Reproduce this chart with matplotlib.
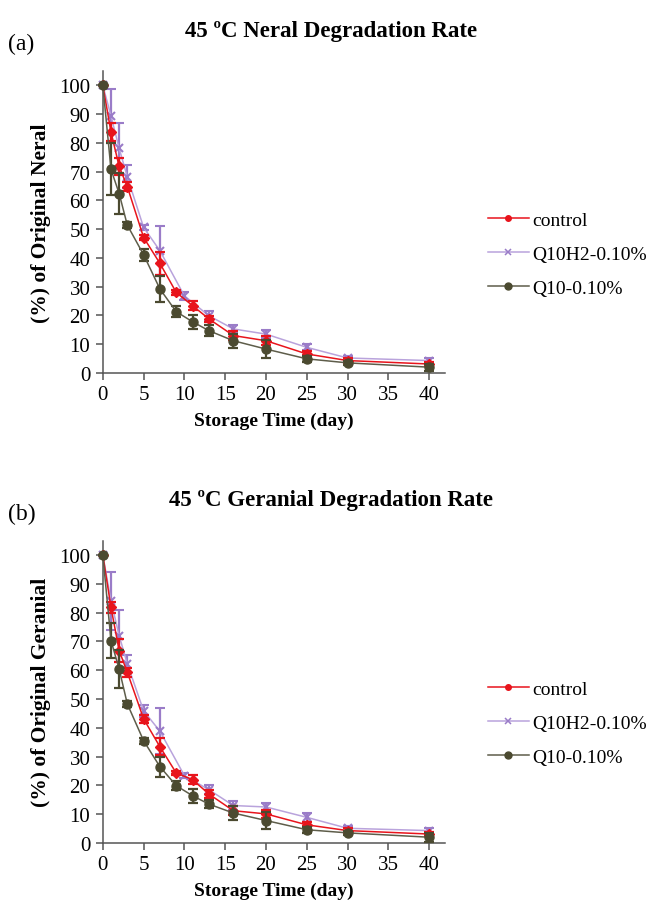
import numpy as np
import matplotlib
matplotlib.use('Agg')
import matplotlib.pyplot as plt
from matplotlib.lines import Line2D

plt.rcParams['font.family'] = ['Liberation Serif', 'DejaVu Serif']

# storage days (Q10H2 was sampled at day 10 instead of 9 and 11)
days = [0, 1, 2, 3, 5, 7, 9, 11, 13, 16, 20, 25, 30, 40]
days_h2 = [0, 1, 2, 3, 5, 7, 10, 13, 16, 20, 25, 30, 40]

# neral, % of original
neral_control = [100, 83.8, 71.8, 64.8, 47.1, 38.1, 28.0, 23.4, 18.8, 13.0, 11.2, 6.6, 4.3, 3.1]
neral_control_err = [0, 3, 3, 1.5, 1, 4, 1, 1.5, 1, 1.5, 1.5, 1, 0.8, 0.8]
neral_h2 = [100, 89.4, 78.1, 68.2, 50.6, 42.5, 26.8, 19.9, 15.3, 13.5, 8.9, 5.2, 4.3]
neral_h2_err = [0, 9.5, 9, 4, 1, 8.5, 1.5, 1.5, 1.5, 1.5, 1, 0.8, 0.8]
neral_q10 = [100, 70.8, 62.4, 51.4, 41.1, 29.2, 21.3, 17.8, 14.7, 11.2, 8.3, 4.9, 3.5, 2.0]
neral_q10_err = [0, 9, 7, 1, 2, 4.5, 2, 2.5, 2, 2.5, 3, 1, 0.8, 1.2]

# geranial, % of original
geranial_control = [100, 81.8, 66.8, 59.3, 43.1, 33.4, 24.3, 22.0, 17.0, 11.2, 10.1, 6.3, 4.3, 3.1]
geranial_control_err = [0, 2, 4, 1.5, 1.5, 3, 0.8, 1.5, 1.5, 1.5, 1.5, 1, 0.8, 0.8]
geranial_h2 = [100, 84.1, 72.0, 62.2, 45.9, 38.8, 23.4, 18.5, 13.0, 12.5, 8.9, 5.1, 4.3]
geranial_h2_err = [0, 10, 9, 3, 2, 8, 1, 1.5, 1.5, 1.5, 1.5, 0.8, 0.8]
geranial_q10 = [100, 70.3, 60.4, 48.3, 35.5, 26.5, 19.9, 16.4, 13.5, 10.4, 7.8, 4.6, 3.5, 2.0]
geranial_q10_err = [0, 6, 6.5, 1, 1, 3.5, 1.5, 2.5, 1.5, 2.5, 3, 1, 0.8, 1.5]

labels = ['control', 'Q10H2-0.10%', 'Q10-0.10%']

RED = '#e8141c'
PURPLE = '#9a7cc8'
PURPLE_LINE = '#b9a3dc'
OLIVE = '#4b4a30'
OLIVE_LINE = '#5e5d4a'


def draw_panel(ax, ctrl, ctrl_err, h2, h2_err, q10, q10_err):
    ax.errorbar(days, ctrl, yerr=ctrl_err, color=RED, ecolor=RED, lw=1.1,
                marker='D', ms=5, capsize=3.5, elinewidth=1.6, capthick=1.6,
                zorder=3)
    ax.errorbar(days_h2, h2, yerr=h2_err, color=PURPLE_LINE, ecolor=PURPLE,
                mec=PURPLE, mfc=PURPLE, lw=1.1, marker='x', ms=6, mew=1.5,
                capsize=3.5, elinewidth=1.6, capthick=1.6, zorder=2)
    ax.errorbar(days, q10, yerr=q10_err, color=OLIVE_LINE, ecolor=OLIVE,
                mec=OLIVE, mfc=OLIVE, lw=1.1, marker='o', ms=6.5,
                capsize=3.5, elinewidth=1.6, capthick=1.6, zorder=4)

    ax.set_xlim(0, 42)
    ax.set_ylim(0, 105)
    ax.set_xticks(np.arange(0, 41, 5))
    ax.set_yticks(np.arange(0, 101, 10))
    for s in ['top', 'right']:
        ax.spines[s].set_visible(False)
    for s in ['left', 'bottom']:
        ax.spines[s].set_color('#555555')
        ax.spines[s].set_linewidth(1.1)
    ax.tick_params(axis='both', labelsize=15, color='#555555', length=5,
                   width=1.1, direction='out', pad=4)
    ax.set_xlabel('Storage Time (day)', fontsize=14, fontweight='bold', labelpad=5)
    for line in ax.get_lines():
        line.set_clip_on(False)
    for coll in ax.collections:
        coll.set_clip_on(False)


# legend keys: plain line with a small marker, no error bars
legend_keys = [
    Line2D([], [], color=RED, lw=1.1, marker='o', ms=4),
    Line2D([], [], color=PURPLE_LINE, lw=1.1, marker='x', ms=4.5, mew=1.1, mec=PURPLE),
    Line2D([], [], color=OLIVE_LINE, lw=1.1, marker='o', ms=5, mfc=OLIVE, mec=OLIVE),
]

fig = plt.figure(figsize=(6.55, 9.12), dpi=100)

ax_top = fig.add_axes([0.157, 0.590, 0.523, 0.331])
ax_bot = fig.add_axes([0.157, 0.0746, 0.523, 0.3315])

draw_panel(ax_top, neral_control, neral_control_err, neral_h2, neral_h2_err,
           neral_q10, neral_q10_err)
draw_panel(ax_bot, geranial_control, geranial_control_err, geranial_h2,
           geranial_h2_err, geranial_q10, geranial_q10_err)

ax_top.set_ylabel('(%) of Original Neral', fontsize=15.5, fontweight='bold', labelpad=6)
ax_bot.set_ylabel('(%) of Original Geranial', fontsize=15.5, fontweight='bold', labelpad=6)

fig.text(0.506, 1 - 31 / 912, '45 ºC Neral Degradation Rate', ha='center',
         va='center', fontsize=16.5, fontweight='bold')
fig.text(0.506, 1 - 501 / 912, '45 ºC Geranial Degradation Rate', ha='center',
         va='center', fontsize=16.5, fontweight='bold')
fig.text(0.012, 1 - 44 / 912, '(a)', ha='left', va='center', fontsize=17)
fig.text(0.012, 1 - 514 / 912, '(b)', ha='left', va='center', fontsize=17)

for ax, y_px in [(ax_top, 255), (ax_bot, 724)]:
    ax.legend(legend_keys, labels, loc='center left', frameon=False, fontsize=14,
              bbox_to_anchor=(488 / 655, 1 - y_px / 912), bbox_transform=fig.transFigure,
              handlelength=2.1, handletextpad=0.2, labelspacing=0.85,
              borderaxespad=0, borderpad=0)

fig.savefig('out.png', dpi=100)
